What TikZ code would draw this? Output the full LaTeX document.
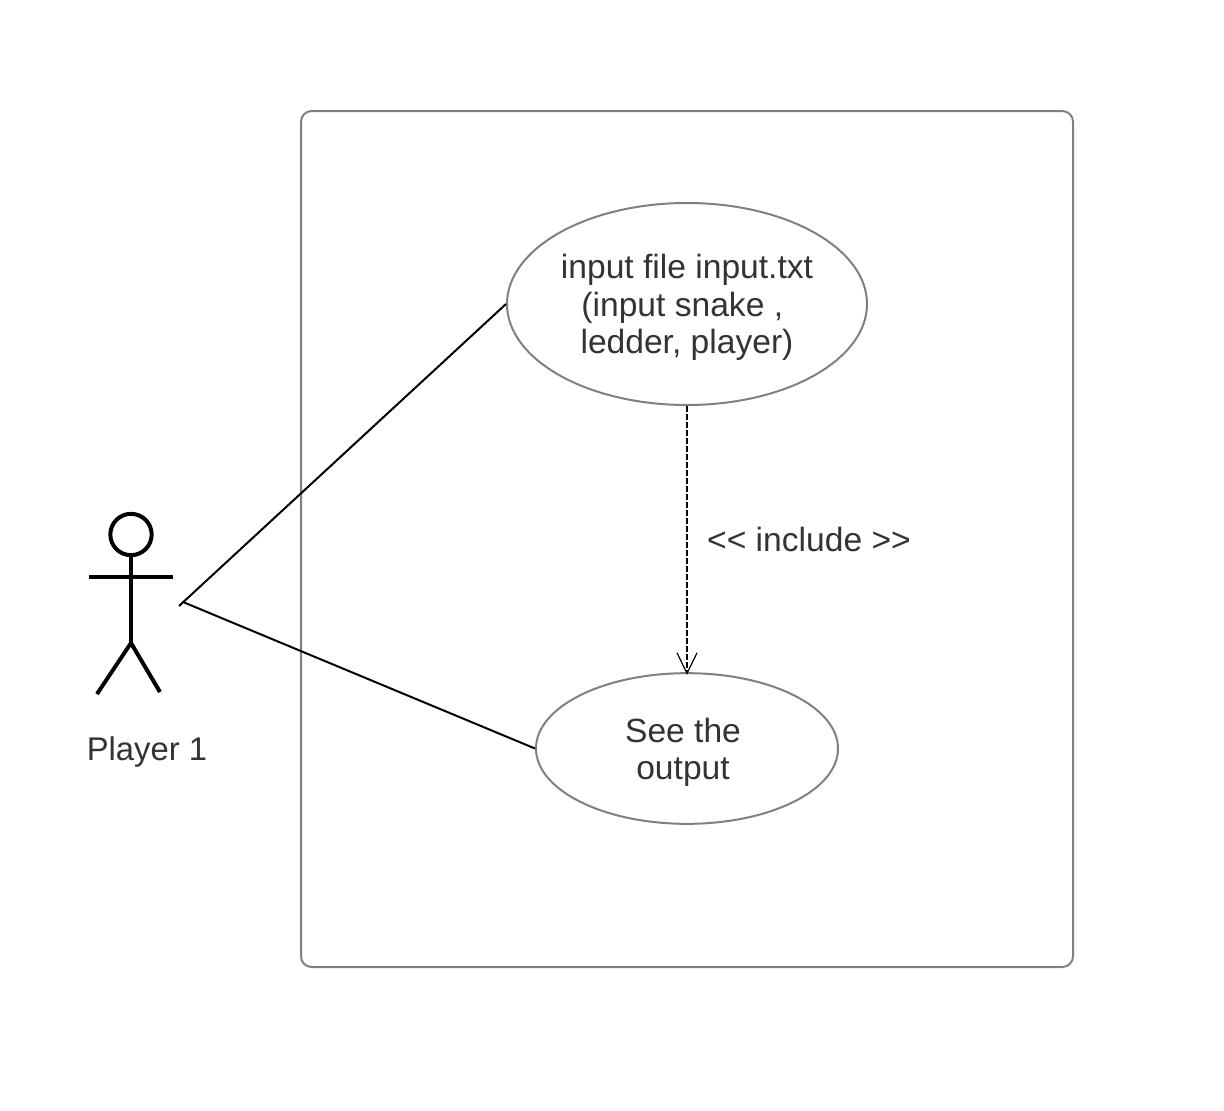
\documentclass[tikz,border=0pt]{standalone}
\usepackage{fontspec}
\setmainfont{Liberation Sans}
\usetikzlibrary{arrows.meta,shapes.geometric}
\definecolor{edgegray}{HTML}{808080}
\definecolor{textgray}{HTML}{333333}
\newcommand{\firstline}{\rule{0pt}{23.6pt}}
\tikzset{every node/.append style={text=textgray,font=\fontsize{25.2pt}{28.1pt}\selectfont}}
\tikzset{usecase/.style={ellipse,draw=edgegray,line width=1.5pt,inner sep=0pt,align=center}}
\tikzset{actorline/.style={line width=3pt}}
\tikzset{assoc/.style={line width=1.5pt}}
\tikzset{includes/.style={line width=1.5pt,dash pattern=on 4.2pt off 1.8pt,shorten >=-2pt,
    -{Straight Barb[length=15.5pt,width=15pt,line width=.9pt]}}}

\begin{document}
\begin{tikzpicture}[x=.75pt,y=-.75pt]
  \useasboundingbox (0,0) rectangle (1224,1110);

  \draw[draw=edgegray,line width=1.5pt,rounded corners=8pt] (301,111) rectangle (1073,967);

  \node[usecase,minimum width=270pt,minimum height=151.5pt] (inputcase) at (687,304)
  {\firstline input file input.txt\\(input snake ,\rule{7pt}{0pt}\\ledder, player)};
  \node[usecase,minimum width=226.5pt,minimum height=113pt] (outputcase) at (687,748.5)
  {\firstline See the\rule{6pt}{0pt}\\output\rule{6pt}{0pt}};
  \node (includelabel) at (809,539) {<{}< include >{}>};

  \node[circle,draw=black,actorline,minimum size=31pt,inner sep=0pt] (head) at (131,534.5) {};
  \coordinate (hip) at (131,643);
  \coordinate (larm) at (89,577);
  \coordinate (rarm) at (173,577);
  \coordinate (lfoot) at (97,694);
  \coordinate (rfoot) at (160,692);
  \draw[actorline] (head.south) -- (hip);
  \draw[actorline] (larm) -- (rarm);
  \draw[actorline] (lfoot) -- (hip) -- (rfoot);
  \node[font=\fontsize{24.6pt}{28.1pt}\selectfont] (player) at (147,752.5) {Player 1};

  \coordinate (c1) at (179,606);
  \coordinate (c2) at (183,602);
  \draw[assoc] (c1) -- (inputcase.west);
  \draw[assoc] (c2) -- (outputcase.west);
  \draw[includes] (inputcase.south) -- (outputcase.north);
\end{tikzpicture}
\end{document}
